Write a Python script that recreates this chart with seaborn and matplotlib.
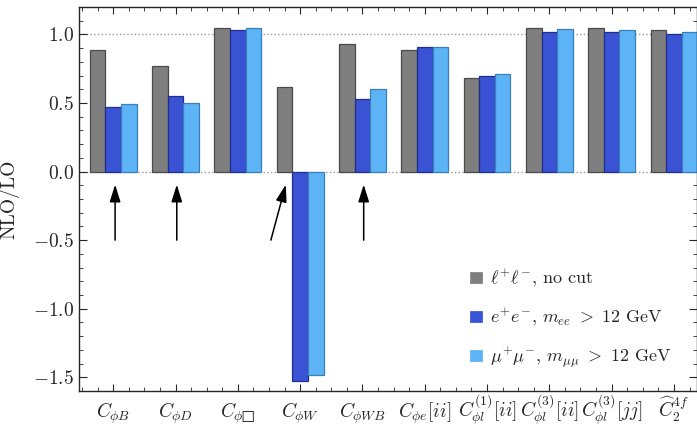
import matplotlib

matplotlib.use("Agg")
import matplotlib.pyplot as plt
import numpy as np
import pandas as pd
import seaborn as sns
from matplotlib.ticker import MultipleLocator, FormatStrFormatter

operators = [
    r"$C_{\phi B}$", r"$C_{\phi D}$", "$C_{\\phi \u25a1}$", r"$C_{\phi W}$",
    r"$C_{\phi WB}$", r"$C_{\phi e}[ii]$", r"$C_{\phi l}^{(1)}[ii]$",
    r"$C_{\phi l}^{(3)}[ii]$", r"$C_{\phi l}^{(3)}[jj]$", r"$\widehat{C}_2^{4f}$",
]
series = [
    r"$\ell^{+}\ell^{-}$, no cut",
    r"$e^{+}e^{-}$, $m_{ee}\ >\ 12$ GeV",
    r"$\mu^{+}\mu^{-}$, $m_{\mu\mu}\ >\ 12$ GeV",
]
ll_nocut = [0.883, 0.77, 1.05, 0.615, 0.93, 0.885, 0.68, 1.05, 1.045, 1.03]
ee_cut = [0.47, 0.55, 1.035, -1.525, 0.53, 0.905, 0.70, 1.02, 1.015, 1.0]
mumu_cut = [0.49, 0.50, 1.045, -1.48, 0.60, 0.91, 0.71, 1.04, 1.035, 1.015]
colors = ["#7f7f7f", "#3a52d4", "#5cb4f7"]
edges = ["#4a4a4a", "#1f2f8a", "#3b7fb8"]
# arrows flag the operators with large cut dependence (tail, head)
arrows = [((0.03, -0.5), (0.03, -0.095)), ((1.02, -0.5), (1.02, -0.095)),
          ((2.53, -0.5), (2.77, -0.095)), ((4.02, -0.5), (4.02, -0.095))]

sns.set_style("ticks")
plt.rcParams.update({
    "font.family": "serif",
    "font.serif": ["cmr10", "DejaVu Serif"],
    "mathtext.fontset": "cm",
    "axes.formatter.use_mathtext": True,
    "axes.unicode_minus": True,
})

frame = pd.DataFrame({
    "operator": np.tile(operators, 3),
    "series": np.repeat(series, len(operators)),
    "value": ll_nocut + ee_cut + mumu_cut,
})

fig = plt.figure(figsize=(6.97, 4.30), dpi=100)
ax = fig.add_axes([0.1133, 0.0907, 0.8867, 0.893])
sns.barplot(data=frame, x="operator", y="value", hue="series", palette=colors,
            saturation=1, width=0.75, linewidth=0.9, ax=ax)
for container, edge in zip(ax.containers, edges):
    for patch in container:
        patch.set_edgecolor(edge)

ax.axhline(1.0, color="#999999", linestyle=":", linewidth=1, zorder=0)
ax.axhline(0.0, color="#999999", linestyle=":", linewidth=1, zorder=0)

for tail, head in arrows:
    ax.annotate("", xy=head, xytext=tail,
                arrowprops=dict(arrowstyle="-|>,head_length=0.7,head_width=0.22",
                                color="black", lw=1.1, mutation_scale=15,
                                shrinkA=0, shrinkB=0))

ax.set_xlim(-0.55, 9.37)
ax.set_ylim(-1.6, 1.2)
ax.set_xlabel("")
ax.set_ylabel("NLO/LO", fontsize=14, labelpad=10)
ax.yaxis.set_major_locator(MultipleLocator(0.5))
ax.yaxis.set_minor_locator(MultipleLocator(0.1))
ax.yaxis.set_major_formatter(FormatStrFormatter("$%.1f$"))
ax.xaxis.set_minor_locator(MultipleLocator(0.25))
ax.tick_params(axis="both", which="both", direction="in", top=True, right=True)
ax.tick_params(axis="y", which="major", length=6, labelsize=14)
ax.tick_params(axis="y", which="minor", length=3)
ax.tick_params(axis="x", which="major", length=5, labelsize=14, pad=19)
ax.tick_params(axis="x", which="minor", length=3)
for label in ax.get_xticklabels():
    label.set_verticalalignment("baseline")
for spine in ax.spines.values():
    spine.set_linewidth(1.0)

ax.legend(loc="lower right", bbox_to_anchor=(0.985, 0.012), frameon=False,
          fontsize=13, labelspacing=0.95, handlelength=0.75, handleheight=0.75,
          handletextpad=0.4)

fig.savefig("out.png", dpi=100)
plt.close(fig)
